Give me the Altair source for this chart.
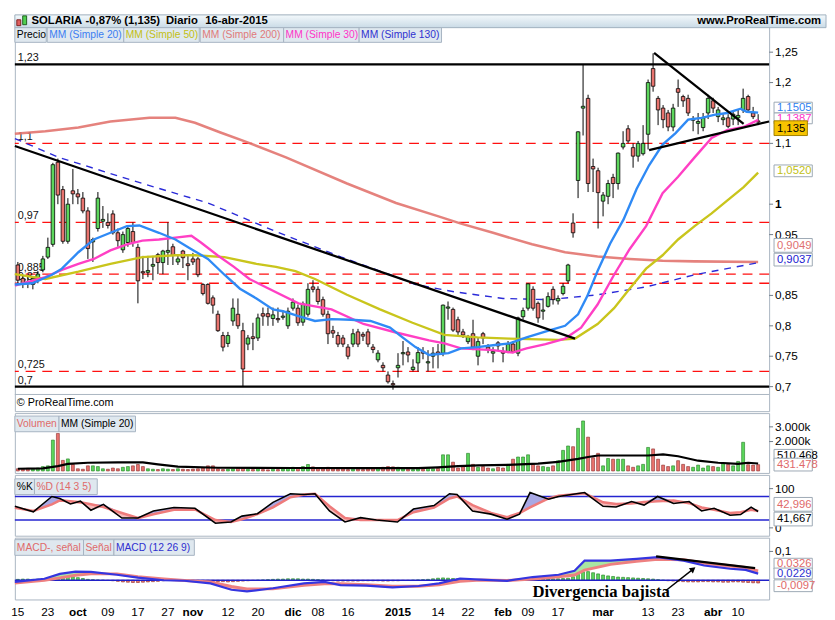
import altair as alt
import pandas as pd

FONT = "Liberation Sans"
GREEN = "#5cd65c"
RED = "#e8736e"

# ---------------- data ----------------
open_ = [0.900,0.878,0.872,0.868,0.875,0.892,0.913,0.934,1.069,1.024,0.939,1.022,1.017,1.010,0.989,0.938,0.960,0.972,0.970,0.984,
         0.953,0.925,0.937,0.955,0.929,0.889,0.888,0.898,0.917,0.904,0.921,0.930,0.905,0.923,0.902,0.910,0.910,0.868,0.868,0.846,
         0.819,0.784,0.771,0.808,0.819,0.792,0.770,0.782,0.780,0.820,0.820,0.812,0.812,0.814,0.800,0.829,0.829,0.806,0.819,0.864,
         0.860,0.843,0.819,0.792,0.784,0.780,0.765,0.770,0.790,0.786,0.790,0.765,0.744,0.735,0.719,0.705,0.731,0.754,0.757,0.728,
         0.739,0.758,0.739,0.750,0.757,0.755,0.829,0.827,0.810,0.790,0.774,0.787,0.750,0.787,0.765,0.755,0.772,0.758,0.757,0.770,
         0.755,0.815,0.829,0.860,0.837,0.824,0.832,0.860,0.841,0.853,0.874,0.969,1.039,1.158,1.174,1.062,1.055,1.005,1.013,1.044,
         1.034,1.094,1.124,1.093,1.079,1.083,1.115,1.223,1.174,1.158,1.150,1.127,1.190,1.177,1.174,1.138,1.133,1.126,1.150,1.170,
         1.144,1.139,1.142,1.140,1.142,1.155,1.177,1.150,1.137]
high = [0.905,0.882,0.880,0.882,0.890,0.915,0.945,1.068,1.075,1.030,1.010,1.058,1.025,1.020,0.995,0.945,1.020,0.997,0.985,0.990,
        0.960,0.955,0.965,0.970,0.935,0.915,0.915,0.915,0.920,0.925,0.970,0.935,0.915,0.925,0.915,0.920,0.913,0.870,0.870,0.850,
        0.825,0.790,0.790,0.845,0.845,0.805,0.785,0.805,0.820,0.830,0.830,0.830,0.830,0.825,0.830,0.845,0.835,0.840,0.870,0.875,
        0.865,0.848,0.825,0.800,0.790,0.785,0.770,0.795,0.795,0.790,0.795,0.770,0.760,0.740,0.725,0.710,0.755,0.775,0.765,0.745,
        0.765,0.765,0.760,0.765,0.770,0.835,0.840,0.830,0.815,0.795,0.785,0.810,0.780,0.790,0.770,0.765,0.775,0.765,0.775,0.775,
        0.815,0.830,0.870,0.865,0.840,0.845,0.855,0.865,0.850,0.870,0.902,0.985,1.120,1.230,1.180,1.075,1.060,1.020,1.040,1.050,
        1.085,1.120,1.130,1.100,1.104,1.130,1.205,1.248,1.178,1.163,1.155,1.165,1.205,1.180,1.180,1.145,1.150,1.150,1.180,1.175,
        1.160,1.148,1.148,1.152,1.155,1.190,1.180,1.160,1.148]
low = [0.870,0.862,0.862,0.860,0.870,0.888,0.910,0.930,1.000,0.935,0.935,1.000,1.000,0.985,0.910,0.905,0.955,0.961,0.960,0.950,
       0.930,0.920,0.930,0.930,0.837,0.877,0.880,0.875,0.885,0.885,0.900,0.900,0.900,0.895,0.875,0.900,0.880,0.850,0.835,0.820,
       0.790,0.758,0.765,0.800,0.795,0.700,0.760,0.760,0.775,0.800,0.800,0.800,0.805,0.810,0.795,0.825,0.800,0.800,0.815,0.855,
       0.835,0.815,0.770,0.780,0.765,0.765,0.745,0.765,0.765,0.775,0.765,0.755,0.740,0.725,0.705,0.695,0.715,0.735,0.740,0.725,
       0.725,0.745,0.725,0.730,0.730,0.750,0.810,0.790,0.785,0.780,0.770,0.760,0.735,0.770,0.755,0.740,0.760,0.740,0.755,0.755,
       0.750,0.810,0.825,0.825,0.805,0.810,0.830,0.835,0.835,0.850,0.870,0.945,1.010,1.113,1.020,1.020,0.960,0.980,1.000,1.010,
       1.024,1.090,1.100,1.060,1.070,1.080,1.090,1.185,1.130,1.125,1.120,1.120,1.160,1.160,1.145,1.120,1.115,1.120,1.140,1.150,
       1.135,1.130,1.125,1.130,1.130,1.150,1.150,1.140,1.130]
close = [0.875,0.868,0.870,0.878,0.885,0.910,0.929,1.065,1.015,0.939,1.000,1.017,1.012,0.989,0.927,0.942,1.010,0.975,0.965,0.953,
         0.940,0.950,0.960,0.937,0.874,0.887,0.891,0.901,0.904,0.923,0.924,0.916,0.910,0.912,0.899,0.905,0.884,0.853,0.837,0.834,
         0.792,0.765,0.784,0.829,0.800,0.729,0.780,0.779,0.813,0.816,0.815,0.818,0.810,0.816,0.824,0.839,0.805,0.836,0.860,0.860,
         0.840,0.819,0.787,0.788,0.770,0.770,0.750,0.787,0.770,0.783,0.770,0.761,0.755,0.731,0.708,0.703,0.735,0.756,0.752,0.732,
         0.756,0.755,0.741,0.755,0.753,0.834,0.831,0.793,0.790,0.785,0.782,0.765,0.774,0.780,0.761,0.758,0.767,0.755,0.770,0.757,
         0.813,0.825,0.869,0.829,0.813,0.826,0.848,0.843,0.845,0.865,0.900,0.953,1.119,1.161,1.034,1.058,1.019,1.015,1.034,1.034,
         1.084,1.100,1.104,1.079,1.100,1.100,1.200,1.194,1.155,1.139,1.127,1.158,1.184,1.170,1.150,1.141,1.136,1.142,1.174,1.158,
         1.155,1.142,1.128,1.148,1.146,1.174,1.155,1.144,1.135]
volume_k = [150,120,180,130,200,300,350,
            2100,2550,720,820,440,150,120,
            350,350,300,150,120,200,150,250,300,350,
            440,300,150,120,100,150,120,
            100,150,120,100,130,150,200,
            350,350,150,100,120,150,200,180,
            120,100,150,100,80,120,100,130,180,
            250,200,300,440,280,200,150,250,
            150,120,150,100,120,130,100,150,200,180,
            250,300,280,250,150,120,100,150,120,200,150,180,
            1100,1100,600,200,300,1200,450,
            250,300,200,150,250,200,450,
            800,950,950,1100,450,350,300,250,
            350,700,1400,1700,1650,2900,3400,2300,
            900,1200,350,850,800,800,800,350,
            250,350,450,1600,1500,800,400,300,
            350,700,450,300,250,400,200,350,300,
            250,500,450,350,650,1950,430,400,431]
macd_hist_milli = [3,4,4,3,4,
                   5,8,11,14,15,14,12,9,6,
                   3,2,1,0,-1,
                   -2,-4,-6,-7,-8,-8,-7,-6,-5,-4,-2,
                   -1,0,1,0,-1,-1,-1,-2,
                   -3,-4,-5,-5,-6,-5,-4,-3,-2,-1,0,
                   1,2,3,4,4,5,5,5,4,4,3,2,1,
                   -1,-2,-3,-3,-3,-3,-3,-2,-2,-2,-2,-3,-3,-2,-2,-1,-1,0,
                   1,2,3,5,7,8,7,6,5,4,3,2,1,
                   1,0,0,-1,0,0,1,2,
                   3,4,4,5,4,4,5,5,6,7,
                   12,20,28,30,26,22,
                   18,15,13,11,10,9,8,7,6,5,4,
                   2,0,
                   -2,-3,-4,-5,-6,-6,-6,-5,-5,-6,-6,-7,-7,-6,-6,-7,-8,-9,-9.7]

ma20_pos = [-0.6,2.9,6.8,8.8,12.1,15.2,18.5,21.8,24.3,28.2,31.5,34.7,38,41.3,44.4,47.7,51,53,56.1,59.4,62.7,66.6,70.5,74.4,76.9,
            79.5,82.2,86.1,88.6,91.9,95,98.3,101.7,106.1,109.4,112,113.9,115.9,118.4,121.1,123.7,126.2,128.9,131.5,134,136.7,139.2,
            141.8,144.5,145.7,148]
ma20_val = [0.868,0.87,0.884,0.894,0.921,0.942,0.953,0.964,0.965,0.953,0.942,0.926,0.91,0.884,0.861,0.845,0.827,0.824,0.816,0.808,
            0.811,0.81,0.808,0.797,0.781,0.765,0.752,0.755,0.763,0.765,0.768,0.771,0.781,0.792,0.8,0.819,0.85,0.89,0.935,0.975,
            1.025,1.064,1.098,1.117,1.139,1.142,1.147,1.15,1.157,1.152,1.1505]
ma30_pos = [-0.6,5.5,8.8,12.1,15.2,18.5,21.8,24.9,28.2,31.5,34.7,36.6,39.9,43.2,46.3,49.7,56.1,62.7,69.1,75.6,82.2,85.3,88.6,95,
            98.9,101.7,105.5,109.4,112.6,115.9,119.2,122.3,125.6,128.9,132,135.3,138.7,141.8,145.1,148]
ma30_val = [0.866,0.88,0.892,0.902,0.91,0.924,0.934,0.94,0.942,0.945,0.948,0.937,0.916,0.897,0.877,0.863,0.837,0.827,0.803,0.789,
            0.776,0.771,0.763,0.76,0.756,0.763,0.77,0.779,0.797,0.835,0.884,0.926,0.964,1.018,1.045,1.077,1.109,1.122,1.127,1.1387]
ma50_pos = [-0.6,5.5,12.1,18.5,24.9,31.5,35.4,41.3,47.7,51.6,55.5,59.4,65.8,72.4,78.9,85.3,91.9,98.3,108.1,111.4,115.9,119.2,
            122.3,125.6,128.9,132,135.3,138.7,141.8,145.1,148]
ma50_val = [0.885,0.877,0.889,0.902,0.913,0.916,0.916,0.913,0.902,0.897,0.89,0.877,0.851,0.827,0.805,0.785,0.781,0.779,0.777,
            0.779,0.803,0.829,0.861,0.894,0.916,0.942,0.964,0.985,1.006,1.028,1.052]
ma130_pos = [-0.6,8.2,24.9,38,51.6,64.7,74.4,79.5,87.2,97,106.1,115.9,125.6,135.3,148]
ma130_val = [1.108,1.077,1.034,1.002,0.955,0.913,0.884,0.868,0.856,0.845,0.843,0.851,0.864,0.884,0.9037]
ma200_pos = [-0.6,5.5,12.1,18.5,26.3,31.5,35.4,40.5,45.8,53.6,65.8,75.6,84.1,88.6,95,102.8,109.4,115.9,122.3,128.9,135.3,148]
ma200_val = [1.116,1.12,1.126,1.136,1.142,1.142,1.134,1.118,1.102,1.077,1.034,1.002,0.98,0.968,0.953,0.934,0.921,0.914,0.91,
             0.907,0.906,0.9049]

volma_pos = [0,5,8,10,14,20,25,28,32,40,55,70,80,84,88,92,98,104,108,112,114,116,120,126,129,132,136,140,144,146,148]
volma_val = [150,180,330,480,560,580,580,450,300,220,200,190,190,250,330,380,420,500,620,820,950,1050,1050,1050,1130,1000,700,
             560,480,560,510]

stoch_pos = [-0.6,3.1,6.8,8.4,10.5,12.5,14.6,17.1,20.8,24,27.1,31.2,35.4,39.5,42.6,44.8,47.9,51,54.5,57.3,59.4,62.3,65.4,68.5,
             71.7,75.9,79.1,83.2,86.3,87.8,90.9,94.6,97.8,100.3,102.4,106.1,108.1,113.3,117,119.6,122.7,125.2,127.9,131.1,134.2,
             136.7,139.2,142.4,144.5,146.6,148]
stoch_k = [55,41,80,75,61,68,45,60,25,25,43,52,50,12,15,30,36,65,87,85,87,43,15,26,20,15,48,57,87,85,43,35,22,35,90,73,80,90,
           55,53,67,58,80,62,67,43,50,32,34,53,41.667]
stoch_d = [51,43,60,70,68,65,60,53,38,25,35,46,47,20,15,22,35,52,78,85,87,55,25,20,20,20,40,52,75,80,58,38,27,38,52,75,82,88,
           65,61,62,66,68,70,63,52,46,38,40,46,42.996]

macd_pos = [-0.6,5.3,8.4,11.5,14.6,19.8,24,29.2,33.3,38.5,42.7,45.8,51,57.2,61.3,64.5,69.7,74.9,80.1,84.2,88.4,92.5,97.8,
            102.9,108.1,111.3,113.3,118.5,123.7,127.9,133.1,137.2,142.4,145.5,148]
macd_line = [-0.006,0.005,0.022,0.03,0.029,0.019,0.009,0.0,-0.002,-0.011,-0.033,-0.039,-0.028,-0.011,-0.006,-0.017,-0.019,
             -0.025,-0.02,-0.011,0.006,0.002,-0.002,0.011,0.019,0.033,0.068,0.068,0.074,0.08,0.068,0.051,0.04,0.036,0.0229]
macd_signal = [-0.01,0.0,0.008,0.017,0.022,0.022,0.012,0.004,-0.001,-0.006,-0.022,-0.03,-0.03,-0.018,-0.012,-0.012,-0.016,
               -0.021,-0.021,-0.016,-0.004,0.001,-0.001,0.004,0.012,0.018,0.035,0.055,0.066,0.073,0.071,0.06,0.05,0.044,0.0326]

red_levels = [1.1, 0.97, 0.885, 0.87, 0.725]
black_levels = [1.23, 0.7]
level_labels = ["1,23", "1,1", "0,97", "0,885", "0,87", "0,725", "0,7"]
level_values = [1.23, 1.1, 0.97, 0.885, 0.87, 0.725, 0.7]

trend_id = ["main", "main", "tri_up", "tri_up", "tri_lo", "tri_lo"]
trend_pos = [-0.6, 111.4, 127.2, 145.1, 126.2, 150.2]
trend_val = [1.0956, 0.779, 1.249, 1.132, 1.089, 1.136]

div_pos = [127.6, 147.4]
div_val = [0.083, 0.042]
arrow_pos = [129.5, 135.0]
arrow_val = [-0.0365, 0.0386]

price_ticks = [0.7, 0.75, 0.8, 0.85, 0.95, 1.2, 1.25]
price_tick_labels = ["0,7", "0,75", "0,8", "0,85", "0,95", "1,2", "1,25"]
price_bold_ticks = [1.0]
price_bold_labels = ["1"]
price_hidden_ticks = [1.1]
price_hidden_labels = ["1,1"]
vol_ticks = [2000, 3000]
vol_tick_labels = ["2.000k", "3.000k"]
stoch_ticks = [0, 100]
stoch_tick_labels = ["0", "100"]
macd_ticks = [0.1]
macd_tick_labels = ["0,1"]

x_tick_pos = [0, 6, 18, 24, 30, 42, 48, 60, 66, 84, 90, 102, 108, 126, 132, 144]
x_tick_lab = ["15", "23", "09", "17", "27", "12", "20", "08", "16", "14", "22", "09", "17", "13", "23", "10"]
x_month_pos = [12, 35, 55, 76, 97, 117, 139]
x_month_lab = ["oct", "nov", "dic", "2015", "feb", "mar", "abr"]

# ---------------- tables ----------------
n = len(close)
candles = pd.DataFrame({
    "j": list(range(n)), "open": open_, "high": high, "low": low, "close": close,
    "dir": ["up" if c >= o else "down" for o, c in zip(open_, close)],
    "vol": volume_k,
    "hist": [h / 1000 for h in macd_hist_milli],
})
candles["hdir"] = ["pos" if h >= 0 else "neg" for h in candles["hist"]]

def series(pos, val):
    return pd.DataFrame({"j": pos, "v": val})

W = 769
XS = alt.Scale(domain=[-0.6, 150.2], nice=False, zero=False, padding=0)
dummy = pd.DataFrame({"k": [0]})

def X(field="j"):
    return alt.X(f"{field}:Q", scale=XS, axis=None)

def rect(x0, x1, y0, y1, fill, stroke="#9ca8b4", sw=1):
    return alt.Chart(dummy).mark_rect(fill=fill, stroke=stroke, strokeWidth=sw).encode(
        x=alt.value(x0), x2=alt.value(x1), y=alt.value(y0), y2=alt.value(y1))

def label(x, y, txt, color="black", size=11, weight="normal", align="left", font=FONT):
    return alt.Chart(dummy).mark_text(text=txt, color=color, fontSize=size, fontWeight=weight, align=align,
                                      baseline="middle", font=font).encode(x=alt.value(x), y=alt.value(y))

def vbox(y0, y1, txt, tcolor, fill="white", stroke="#9ca8b4", x0=774, x1=813):
    return [rect(x0, x1, y0, y1, fill, stroke), label(x0 + 3, (y0 + y1) / 2 + 0.5, txt, tcolor, size=11.5)]

def tag(x0, x1, y0, y1, txt, color):
    return [rect(x0, x1, y0, y1, "#dfe8ef", "#a6b4c2"), label(x0 + 2, (y0 + y1) / 2 + 0.5, txt, color, size=10.5)]

def yticks(scale, values, labels, weight="normal"):
    df = pd.DataFrame({"v": values, "t": labels})
    y = alt.Y("v:Q", scale=scale, axis=None)
    return [
        alt.Chart(df).mark_rule(color="#6f7b87", strokeWidth=1).encode(x=alt.value(W), x2=alt.value(W + 4), y=y),
        alt.Chart(df).mark_text(align="left", baseline="middle", fontSize=12, font=FONT, color="black",
                                fontWeight=weight).encode(x=alt.value(W + 6), y=y, text="t:N"),
    ]

# ---------------- price panel ----------------
PY = alt.Scale(domain=[0.65968, 1.31129], nice=False, zero=False)

def py(field="v"):
    return alt.Y(f"{field}:Q", scale=PY, axis=None)

layers = []
layers += yticks(PY, price_ticks + price_hidden_ticks, price_tick_labels + price_hidden_labels)
layers += yticks(PY, price_bold_ticks, price_bold_labels, weight="bold")
layers.append(alt.Chart(pd.DataFrame({"v": red_levels})).mark_rule(color="#ff1010", strokeDash=[10, 7], strokeWidth=1.3)
              .encode(y=py()))
layers.append(alt.Chart(pd.DataFrame({"v": black_levels})).mark_rule(color="black", strokeWidth=2.2).encode(y=py()))
layers.append(alt.Chart(pd.DataFrame({"v": level_values, "t": level_labels})).mark_text(
    align="left", baseline="bottom", fontSize=11, font=FONT, color="#111", dy=-1).encode(x=alt.value(3), y=py(), text="t:N"))
layers.append(alt.Chart(series(ma200_pos, ma200_val)).mark_line(color="#e2746f", strokeWidth=2.6, opacity=0.9).encode(x=X(), y=py()))
layers.append(alt.Chart(series(ma130_pos, ma130_val)).mark_line(color="#2a2ad8", strokeWidth=1.4, strokeDash=[7, 6]).encode(x=X(), y=py()))
layers.append(alt.Chart(candles).mark_rule(color="black", strokeWidth=1).encode(x=X(), y=py("low"), y2="high:Q"))
layers.append(alt.Chart(candles).mark_bar(size=3.6, stroke="black", strokeWidth=0.8).encode(
    x=X(), y=py("open"), y2="close:Q",
    color=alt.Color("dir:N", scale=alt.Scale(domain=["up", "down"], range=[GREEN, RED]), legend=None)))
layers.append(alt.Chart(series(ma50_pos, ma50_val)).mark_line(color="#c9c51c", strokeWidth=2.4).encode(x=X(), y=py()))
layers.append(alt.Chart(series(ma30_pos, ma30_val)).mark_line(color="#ff3fc4", strokeWidth=2.4).encode(x=X(), y=py()))
layers.append(alt.Chart(series(ma20_pos, ma20_val)).mark_line(color="#2f8af5", strokeWidth=2.4).encode(x=X(), y=py()))
layers.append(alt.Chart(pd.DataFrame({"id": trend_id, "j": trend_pos, "v": trend_val})).mark_line(
    color="black", strokeWidth=2.3).encode(x=X(), y=py(), detail="id:N"))

grad = alt.LinearGradient(gradient="linear", stops=[alt.GradientStop(color="#f4f9fc", offset=0),
                                                    alt.GradientStop(color="#cadbe6", offset=1)], x1=0, x2=0, y1=0, y2=1)
layers.append(alt.Chart(dummy).mark_rect(fill=grad, stroke="#9fb0bf", strokeWidth=1).encode(
    x=alt.value(0), x2=alt.value(827), y=alt.value(0), y2=alt.value(13)))
layers.append(rect(2, 6, 5, 11, "#e06060", "#802020"))
layers.append(rect(8, 12, 1, 10, "#50d050", "#206020"))
layers.append(label(17, 6.5, "SOLARIA", size=11.5, weight="bold"))
layers.append(label(72, 6.5, "-0,87% (1,135)", size=11.5, weight="bold"))
layers.append(label(154, 6.5, "Diario", size=11.5, weight="bold"))
layers.append(label(194, 6.5, "16-abr-2015", size=11.5, weight="bold"))
layers.append(label(822, 6.5, "www.ProRealTime.com", size=11.5, weight="bold", align="right"))
for x0, x1, txt, col in [(0, 32, "Precio", "black"), (33, 111, "MM (Simple 20)", "#3b7df2"),
                         (111, 188, "MM (Simple 50)", "#c2bf14"), (189, 274, "MM (Simple 200)", "#e07a7a"),
                         (274, 351, "MM (Simple 30)", "#ff33c8"), (351, 435, "MM (Simple 130)", "#3030d0")]:
    layers += tag(x0, x1, 13, 28, txt, col)
layers += vbox(89, 100, "1,1505", "#2f7ff0")
layers += vbox(100, 111, "1,1387", "#ff33c8")
layers += vbox(108, 123, "1,135", "black", fill="#f7c400", stroke="#a08000", x1=808)
layers += vbox(153, 165, "1,0520", "#c2bf14")
layers += vbox(228, 242, "0,9049", "#e07070")
layers += vbox(243, 256, "0,9037", "#2020d0")
layers.append(alt.Chart(dummy).mark_rule(color="#a9b5c1", strokeWidth=1).encode(y=alt.value(387)))
layers.append(label(2, 396, "\u00a9 ProRealTime.com", size=11))

price = alt.layer(*layers).properties(width=W, height=404)

# ---------------- volume panel ----------------
VY = alt.Scale(domain=[-133, 3933], nice=False, zero=False)
vlayers = yticks(VY, vol_ticks, vol_tick_labels)
vlayers += [
    alt.Chart(candles).mark_bar(size=3, strokeWidth=0.6).encode(
        x=X(), y=alt.Y("vol:Q", scale=VY, axis=None),
        color=alt.Color("dir:N", scale=alt.Scale(domain=["up", "down"], range=[GREEN, RED]), legend=None),
        stroke=alt.Stroke("dir:N", scale=alt.Scale(domain=["up", "down"], range=["#1f7a1f", "#8a2a2a"]), legend=None)),
    alt.Chart(series(volma_pos, volma_val)).mark_line(color="black", strokeWidth=2.2).encode(
        x=X(), y=alt.Y("v:Q", scale=VY, axis=None)),
]
vlayers += tag(0, 45, 3, 19, "Volumen", "#e06a6a")
vlayers += tag(45, 123, 3, 19, "MM (Simple 20)", "black")
vlayers += vbox(37, 49, "510.468", "black")
vlayers += vbox(46, 59, "431.478", "#e06a6a")
volume = alt.layer(*vlayers).properties(width=W, height=61)

# ---------------- stochastic panel ----------------
SY = alt.Scale(domain=[-20, 135], nice=False, zero=False)
st = pd.DataFrame({"j": stoch_pos, "k": stoch_k, "d": stoch_d})
slayers = yticks(SY, stoch_ticks, stoch_tick_labels)
slayers += [
    alt.Chart(pd.DataFrame({"v": [20, 80]})).mark_rule(color="#2424d0", strokeWidth=1.4).encode(
        y=alt.Y("v:Q", scale=SY, axis=None)),
    alt.Chart(st).transform_calculate(hi="max(datum.k, datum.d)").mark_area(color="#a8a8e4").encode(
        x=X(), y=alt.Y("d:Q", scale=SY, axis=None), y2="hi:Q"),
    alt.Chart(st).transform_calculate(lo="min(datum.k, datum.d)").mark_area(color="#f6bcbc").encode(
        x=X(), y=alt.Y("lo:Q", scale=SY, axis=None), y2="d:Q"),
    alt.Chart(st).mark_line(color="#ee7b7b", strokeWidth=2.6).encode(x=X(), y=alt.Y("d:Q", scale=SY, axis=None)),
    alt.Chart(st).mark_line(color="black", strokeWidth=1.6).encode(x=X(), y=alt.Y("k:Q", scale=SY, axis=None)),
]
slayers += tag(0, 20, 4, 20, "%K", "black")
slayers += tag(20, 84, 4, 20, "%D (14 3 5)", "#e06a6a")
slayers += vbox(23, 37, "42,996", "#e06a6a")
slayers += vbox(38, 52, "41,667", "black")
stoch = alt.layer(*slayers).properties(width=W, height=62)

# ---------------- MACD panel ----------------
MY = alt.Scale(domain=[-0.0669, 0.1478], nice=False, zero=False)
mc = pd.DataFrame({"j": macd_pos, "m": macd_line, "s": macd_signal})
MH = 63
mlayers = yticks(MY, macd_ticks, macd_tick_labels)
mlayers += [
    alt.Chart(candles).mark_bar(size=3, strokeWidth=0.6).encode(
        x=X(), y=alt.Y("hist:Q", scale=MY, axis=None),
        color=alt.Color("hdir:N", scale=alt.Scale(domain=["pos", "neg"], range=["#48c848", "#c84848"]), legend=None),
        stroke=alt.Stroke("hdir:N", scale=alt.Scale(domain=["pos", "neg"], range=["#1f6f1f", "#7a1f1f"]), legend=None)),
    alt.Chart(mc).transform_calculate(hi="max(datum.m, datum.s)").mark_area(color="#a8e6a2").encode(
        x=X(), y=alt.Y("s:Q", scale=MY, axis=None), y2="hi:Q"),
    alt.Chart(mc).transform_calculate(lo="min(datum.m, datum.s)").mark_area(color="#f6b8b8").encode(
        x=X(), y=alt.Y("lo:Q", scale=MY, axis=None), y2="s:Q"),
    alt.Chart(pd.DataFrame({"v": [0.0]})).mark_rule(color="#2020c8", strokeWidth=1.6).encode(
        y=alt.Y("v:Q", scale=MY, axis=None)),
    alt.Chart(mc).mark_line(color="#ee8080", strokeWidth=3).encode(x=X(), y=alt.Y("s:Q", scale=MY, axis=None)),
    alt.Chart(mc).mark_line(color="#3535e0", strokeWidth=2.2).encode(x=X(), y=alt.Y("m:Q", scale=MY, axis=None)),
    alt.Chart(series(div_pos, div_val)).mark_line(color="black", strokeWidth=2.4).encode(
        x=X(), y=alt.Y("v:Q", scale=MY, axis=None)),
    alt.Chart(series(arrow_pos, arrow_val)).mark_line(color="black", strokeWidth=1.5).encode(
        x=X(), y=alt.Y("v:Q", scale=MY, axis=None)),
    alt.Chart(series(arrow_pos[1:], arrow_val[1:])).mark_point(shape="triangle-up", filled=True, color="black",
                                                               size=45, angle=52, opacity=1).encode(
        x=X(), y=alt.Y("v:Q", scale=MY, axis=None)),
    alt.Chart(pd.DataFrame({"j": [116.6], "v": [-0.040], "t": ["Divergencia bajista"]})).mark_text(
        font="Liberation Serif", fontSize=17, fontWeight="bold", color="black", baseline="middle").encode(
        x=X(), y=alt.Y("v:Q", scale=MY, axis=None), text="t:N"),
    alt.Chart(pd.DataFrame({"j": x_tick_pos, "t": x_tick_lab})).mark_text(
        font=FONT, fontSize=12, color="black", baseline="middle", align="center").encode(
        x=X(), y=alt.value(MH + 13), text="t:N"),
    alt.Chart(pd.DataFrame({"j": x_month_pos, "t": x_month_lab})).mark_text(
        font=FONT, fontSize=12, fontWeight="bold", color="black", baseline="middle", align="center").encode(
        x=X(), y=alt.value(MH + 13), text="t:N"),
]
mlayers += tag(0, 70, 2, 18, "MACD-, se\u00f1al", "#e06a6a")
mlayers += tag(70, 101, 2, 18, "Se\u00f1al", "#e06a6a")
mlayers += tag(101, 183, 2, 18, "MACD (12 26 9)", "#3030d0")
mlayers += vbox(21, 32, "0,0326", "#e06a6a")
mlayers += vbox(31, 42, "0,0229", "#2f2fd0")
mlayers += vbox(43, 55, "-0,0097", "#e06a6a")
macd = alt.layer(*mlayers).properties(width=W, height=MH)

chart = alt.vconcat(price, volume, stoch, macd, spacing=0).properties(
    padding=0, background="white").configure_view(stroke="#a9b5c1", strokeWidth=1)

chart.save("out.html", embed_options={"renderer": "svg", "actions": False})
